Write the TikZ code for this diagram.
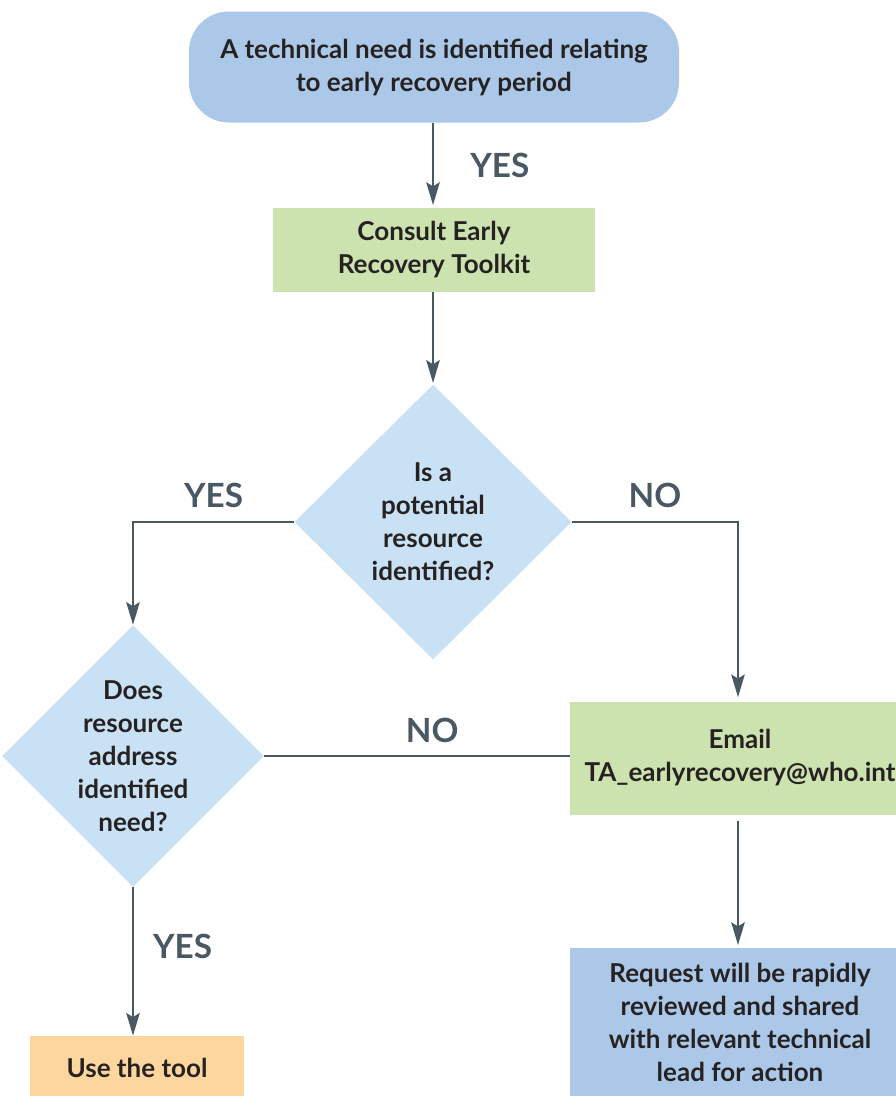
\documentclass[tikz,border=0pt]{standalone}
\usepackage{fontspec}
\setmainfont{Lato}
\usetikzlibrary{shapes.geometric,arrows.meta}

\definecolor{needblue}{RGB}{172,200,233}
\definecolor{stepgreen}{RGB}{204,226,175}
\definecolor{askblue}{RGB}{201,225,244}
\definecolor{tooltan}{RGB}{253,214,158}
\definecolor{inkdark}{RGB}{38,34,34}
\definecolor{flowgrey}{RGB}{74,88,99}

\tikzset{
  boxtext/.style={text=inkdark, font=\bfseries\fontsize{19.5}{24.75}\selectfont, align=center, inner sep=0pt},
  startbox/.style={boxtext, fill=needblue, rounded corners=30pt, minimum width=367.5pt, minimum height=83.25pt},
  stepbox/.style={boxtext, fill=stepgreen, minimum width=241.5pt, minimum height=63pt},
  decision/.style={boxtext, diamond, fill=askblue},
  answer/.style={text=flowgrey, font=\bfseries\fontsize{25}{30}\selectfont, inner sep=0pt},
  flow/.style={draw=flowgrey, line width=2pt, -{Stealth[length=17pt, width=10pt, inset=3pt]}},
  link/.style={draw=flowgrey, line width=2pt}
}

\begin{document}
\begin{tikzpicture}[x=0.75pt, y=-0.75pt]
    \useasboundingbox (0,0) rectangle (896,1096);
    \clip (0,0) rectangle (896,1096);
		\node[startbox] (need) at (434,67) {A technical need is identified relating\\to early recovery period};
		\node[stepbox] (consult) at (434,250) {Consult Early\\Recovery Toolkit};
		\node[decision, minimum width=207.75pt, minimum height=206.25pt] (found) at (433,522)
            {Is a\\potential\\resource\\identified?};
		\node[decision, minimum width=192.75pt, minimum height=192pt] (address) at (133,756)
            {Does\\resource\\address\\identified\\need?};
		\node[stepbox, minimum width=255pt, minimum height=84.75pt] (email) at (740,758)
            {Email\\TA\_earlyrecovery@who.int};
		\node[boxtext, fill=needblue, minimum width=255pt, minimum height=111pt] (review) at (740,1022)
            {Request will be rapidly\\reviewed and shared\\with relevant technical\\lead for action};
		\node[boxtext, fill=tooltan, minimum width=160.5pt, minimum height=48pt] (use) at (137,1068) {Use the tool};

        \draw[flow, shorten >=2pt] (need.south -| found.north) -- node[answer, right=27pt] (yesfirst) {YES} (consult.north -| found.north);
        \draw[flow, shorten >=1pt] (consult.south -| found.north) -- (found.north);
        \draw[flow] (found.west) -| node[answer, pos=0.25, above=10pt] (yesfound) {YES} (address.north);
        \draw[flow, shorten >=3pt] (found.east) -| node[answer, pos=0.25, above=10pt] (nofound) {NO} ([xshift=-1.5pt]email.north);
        \draw[link] (address.east) -- node[answer, pos=0.55, above=9pt] (noaddress) {NO} (address.east -| email.west);
        \draw[flow, shorten <=5pt, shorten >=2pt] ([xshift=-1.5pt]email.south) -- ([xshift=-1.5pt]review.north);
        \draw[flow] (address.south) -- node[answer, pos=0.4, right=14pt] (yesaddress) {YES} (address.south |- use.north);
	\end{tikzpicture}
\end{document}
